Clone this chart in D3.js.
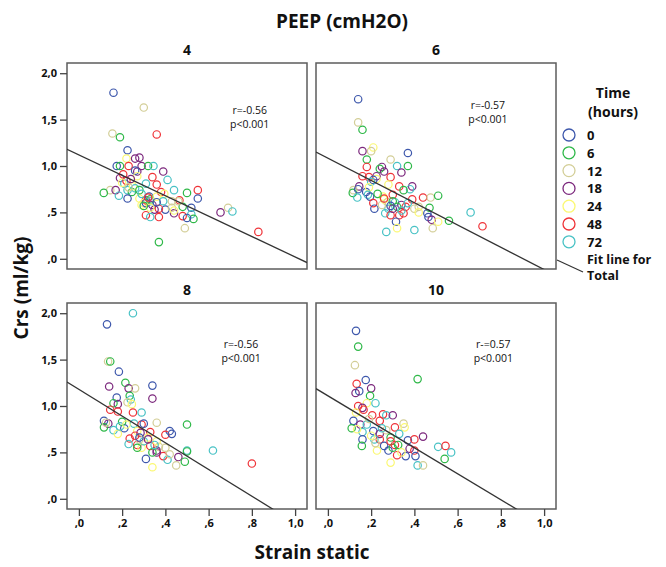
<!DOCTYPE html>
<html>
<head>
<meta charset="utf-8">
<script src="https://cdn.jsdelivr.net/npm/d3@7"></script>
<style>
  body { margin: 0; background: #fff; }
  text { font-family: "Open Sans", "DejaVu Sans", sans-serif; fill: #111; }
</style>
</head>
<body>
<svg id="chart" width="666" height="567"></svg>
<script>
// time groups (hours) and SPSS default colours
var times = [0, 6, 12, 18, 24, 48, 72];
var colors = ["#3E58AC", "#2EB848", "#D3CE97", "#7C287D", "#FBF873", "#EF3338", "#48C2C5"];

var peepLevels = ["4", "6", "8", "10"];
var xTicks = [0, 0.2, 0.4, 0.6, 0.8, 1.0];
var yTicks = [0, 0.5, 1.0, 1.5, 2.0];

// fit line for total per panel: crs = a + b * strain
var fitIntercept = [1.12, 1.084, 1.18, 1.11];
var fitSlope = [-1.10, -1.20, -1.44, -1.40];
var rLabels = ["r=-0.56", "r=-0.57", "r=-0.56", "r-=0.57"];
var pLabels = ["p<0.001", "p<0.001", "p<0.001", "p<0.001"];

// [time, strain, crs]
var peep4 = [
  [0,0.16,1.79],[12,0.30,1.63],[12,0.155,1.35],[6,0.19,1.31],[48,0.36,1.34],
  [0,0.225,1.17],[24,0.22,1.08],[18,0.26,1.08],[18,0.28,1.09],[0,0.175,1.0],
  [6,0.19,1.0],[48,0.23,1.0],[18,0.29,1.0],[6,0.32,1.0],[72,0.345,1.0],
  [18,0.39,0.94],[18,0.27,0.94],[0,0.26,0.95],[48,0.205,0.91],[18,0.19,0.87],
  [48,0.34,0.88],[72,0.41,0.85],[24,0.27,0.89],[72,0.31,0.81],[48,0.36,0.80],
  [72,0.21,0.81],[48,0.22,0.84],[12,0.145,0.74],[18,0.17,0.74],[6,0.115,0.71],
  [72,0.225,0.74],[6,0.245,0.72],[72,0.185,0.68],[0,0.225,0.65],[24,0.28,0.65],
  [24,0.29,0.58],[48,0.31,0.63],[0,0.325,0.67],[72,0.33,0.62],[18,0.34,0.58],
  [48,0.38,0.72],[24,0.395,0.70],[72,0.44,0.74],[6,0.50,0.71],[48,0.55,0.74],
  [0,0.55,0.65],[48,0.465,0.63],[12,0.43,0.62],[6,0.48,0.56],[0,0.40,0.53],
  [18,0.44,0.49],[48,0.37,0.54],[18,0.35,0.53],[48,0.31,0.47],[72,0.33,0.45],
  [48,0.37,0.45],[12,0.43,0.55],[0,0.52,0.55],[48,0.48,0.46],[72,0.52,0.48],
  [6,0.53,0.43],[12,0.49,0.33],[0,0.50,0.44],[18,0.655,0.50],[12,0.69,0.55],
  [72,0.71,0.51],[48,0.83,0.29],[6,0.37,0.18],[24,0.25,0.78],[24,0.30,0.60],
  [72,0.26,0.76],[6,0.28,0.74],[24,0.20,0.82],[72,0.29,0.70],[0,0.31,0.60],
  [6,0.33,0.64],[24,0.36,0.67],[12,0.23,0.77],[18,0.24,0.86],[24,0.33,0.55],
  [72,0.39,0.62],[6,0.30,0.57],[12,0.46,0.62],[24,0.44,0.52],[48,0.32,0.66],
  [0,0.36,0.61]
];
var peep6 = [
  [0,0.14,1.72],[12,0.14,1.47],[6,0.16,1.39],[18,0.16,1.16],[24,0.21,1.20],
  [12,0.20,1.16],[6,0.18,1.07],[0,0.37,1.14],[12,0.29,1.07],[48,0.18,0.99],
  [72,0.32,1.0],[6,0.37,1.0],[18,0.25,0.99],[6,0.24,0.97],[18,0.26,0.94],
  [18,0.34,0.93],[48,0.29,0.88],[48,0.16,0.89],[18,0.225,0.89],[24,0.225,0.86],
  [48,0.19,0.88],[0,0.21,0.85],[72,0.20,0.83],[48,0.33,0.78],[18,0.39,0.78],
  [72,0.38,0.75],[6,0.35,0.74],[24,0.28,0.80],[18,0.145,0.78],[12,0.118,0.74],
  [6,0.115,0.71],[0,0.14,0.75],[72,0.136,0.66],[0,0.177,0.72],[24,0.19,0.77],
  [72,0.185,0.69],[24,0.255,0.67],[48,0.30,0.69],[0,0.195,0.67],[48,0.21,0.60],
  [0,0.215,0.54],[12,0.275,0.61],[72,0.31,0.61],[18,0.34,0.58],[6,0.32,0.56],
  [48,0.36,0.56],[12,0.42,0.56],[48,0.39,0.64],[48,0.44,0.66],[12,0.475,0.66],
  [6,0.51,0.68],[6,0.47,0.55],[72,0.28,0.54],[72,0.265,0.49],[48,0.29,0.47],
  [48,0.33,0.47],[48,0.35,0.49],[0,0.46,0.49],[0,0.465,0.45],[18,0.48,0.42],
  [24,0.51,0.40],[0,0.315,0.40],[24,0.32,0.33],[72,0.27,0.29],[72,0.40,0.31],
  [12,0.485,0.33],[6,0.56,0.41],[72,0.66,0.50],[48,0.715,0.35],[12,0.40,0.54],
  [72,0.37,0.60],[24,0.26,0.64],[6,0.30,0.62],[18,0.30,0.54],[12,0.25,0.58],
  [48,0.26,0.65],[72,0.34,0.52],[24,0.42,0.50],[0,0.29,0.57],[6,0.23,0.70]
];
var peep8 = [
  [72,0.25,2.0],[0,0.13,1.88],[12,0.135,1.48],[6,0.145,1.48],[0,0.185,1.37],
  [18,0.14,1.21],[6,0.215,1.25],[18,0.23,1.19],[12,0.26,1.19],[0,0.34,1.22],
  [18,0.34,1.08],[6,0.235,1.11],[72,0.24,1.07],[0,0.175,1.09],[12,0.225,1.04],
  [24,0.245,1.02],[18,0.18,1.02],[6,0.16,1.03],[48,0.145,0.96],[48,0.18,0.94],
  [48,0.25,0.93],[72,0.29,0.93],[12,0.36,0.82],[6,0.50,0.80],[72,0.62,0.52],
  [0,0.116,0.84],[18,0.136,0.81],[6,0.116,0.77],[12,0.125,0.82],[72,0.16,0.74],
  [24,0.18,0.70],[0,0.21,0.76],[72,0.255,0.81],[24,0.27,0.73],[48,0.29,0.80],
  [0,0.30,0.81],[48,0.33,0.72],[0,0.42,0.73],[48,0.40,0.69],[48,0.235,0.65],
  [72,0.23,0.59],[48,0.27,0.58],[18,0.285,0.71],[24,0.29,0.55],[48,0.33,0.57],
  [18,0.36,0.52],[12,0.37,0.56],[72,0.50,0.52],[6,0.50,0.51],[48,0.39,0.46],
  [18,0.46,0.45],[72,0.41,0.42],[6,0.49,0.40],[0,0.31,0.43],[12,0.45,0.36],
  [24,0.34,0.34],[48,0.80,0.38],[0,0.43,0.70],[18,0.36,0.50],[6,0.34,0.50],
  [72,0.30,0.62],[24,0.32,0.66],[12,0.28,0.64],[6,0.20,0.83],[24,0.36,0.62],
  [72,0.19,0.78],[12,0.40,0.55],[48,0.26,0.68],[0,0.28,0.66],[18,0.32,0.64],
  [24,0.22,0.80],[6,0.27,0.55],[72,0.35,0.58],[12,0.42,0.48]
];
var peep10 = [
  [0,0.13,1.81],[6,0.14,1.64],[12,0.125,1.44],[6,0.415,1.29],[0,0.175,1.28],
  [48,0.133,1.24],[18,0.20,1.19],[0,0.145,1.16],[18,0.128,1.14],[6,0.195,1.11],
  [72,0.22,1.03],[24,0.18,1.03],[48,0.14,1.0],[18,0.16,0.98],[24,0.13,0.93],
  [48,0.165,0.96],[48,0.205,0.90],[48,0.255,0.91],[72,0.27,0.90],[18,0.30,0.90],
  [48,0.24,0.84],[0,0.118,0.84],[18,0.15,0.80],[6,0.11,0.76],[72,0.16,0.72],
  [24,0.135,0.75],[0,0.16,0.64],[6,0.157,0.57],[0,0.21,0.73],[48,0.31,0.77],
  [12,0.35,0.81],[24,0.355,0.77],[18,0.24,0.70],[48,0.24,0.64],[72,0.215,0.64],
  [0,0.26,0.57],[24,0.227,0.52],[48,0.31,0.58],[6,0.325,0.58],[0,0.37,0.63],
  [48,0.40,0.64],[18,0.44,0.67],[18,0.378,0.54],[48,0.40,0.52],[0,0.405,0.46],
  [0,0.36,0.46],[48,0.32,0.47],[24,0.29,0.39],[0,0.28,0.52],[72,0.51,0.56],
  [48,0.544,0.57],[72,0.57,0.50],[6,0.54,0.43],[72,0.415,0.36],[12,0.44,0.36],
  [72,0.18,0.80],[12,0.27,0.74],[6,0.29,0.66],[24,0.20,0.68],[72,0.33,0.70],
  [12,0.22,0.60],[24,0.34,0.50],[72,0.25,0.76],[6,0.30,0.55],[12,0.19,0.86],
  [48,0.29,0.62]
];
var panelData = [peep4, peep6, peep8, peep10];

// layout
var pw = 240, ph = 206;
var panelPos = [[67, 63], [316, 63], [67, 303], [316, 303]];
var statPos = [[0.79, 1.60], [0.74, 1.66], [0.75, 1.67], [0.765, 1.67]];

var svg = d3.select("#chart");

var x = d3.scaleLinear().domain([-0.055, 1.055]).range([0, pw]);
var y = d3.scaleLinear().domain([-0.11, 2.11]).range([ph, 0]);
var color = d3.scaleOrdinal().domain(times).range(colors);

function spssFmt(d) {
  return d3.format(".1f")(d).replace(/^0\./, ".").replace(".", ",");
}

panelData.forEach(function(data, i) {
  var g = svg.append("g")
    .attr("transform", "translate(" + panelPos[i][0] + "," + panelPos[i][1] + ")");

  g.append("clipPath").attr("id", "clip" + i)
    .append("rect").attr("width", pw).attr("height", ph);

  g.append("rect")
    .attr("width", pw).attr("height", ph)
    .attr("fill", "#fff")
    .attr("stroke", "#5c5c5c").attr("stroke-width", 1.5);

  // panel header
  g.append("text")
    .attr("x", pw / 2).attr("y", -8)
    .attr("text-anchor", "middle")
    .style("font-size", "14px").style("font-weight", "bold")
    .text(peepLevels[i]);

  if (i % 2 == 0) {
    var ya = g.append("g")
      .call(d3.axisLeft(y).tickValues(yTicks).tickSize(7).tickSizeOuter(0).tickFormat(spssFmt));
    ya.select(".domain").remove();
    ya.selectAll("line").attr("stroke", "#444").attr("stroke-width", 1.3);
    ya.selectAll("text").style("font-size", "11px").style("font-weight", "bold")
      .style("font-family", "'Open Sans', sans-serif").attr("fill", "#222");
  }
  if (i >= 2) {
    var xa = g.append("g").attr("transform", "translate(0," + ph + ")")
      .call(d3.axisBottom(x).tickValues(xTicks).tickSize(7).tickSizeOuter(0).tickFormat(spssFmt));
    xa.select(".domain").remove();
    xa.selectAll("line").attr("stroke", "#444").attr("stroke-width", 1.3);
    xa.selectAll("text").style("font-size", "11px").style("font-weight", "bold")
      .style("font-family", "'Open Sans', sans-serif").attr("fill", "#222");
  }

  var inner = g.append("g").attr("clip-path", "url(#clip" + i + ")");

  inner.selectAll("circle")
    .data(data)
    .enter()
    .append("circle")
    .attr("cx", function(d) { return x(d[1]); })
    .attr("cy", function(d) { return y(d[2]); })
    .attr("r", 3.7)
    .attr("fill", "none")
    .attr("stroke", function(d) { return color(d[0]); })
    .attr("stroke-width", 1.2);

  var xs = x.domain();
  inner.append("line")
    .attr("x1", x(xs[0])).attr("y1", y(fitIntercept[i] + fitSlope[i] * xs[0]))
    .attr("x2", x(xs[1])).attr("y2", y(fitIntercept[i] + fitSlope[i] * xs[1]))
    .attr("stroke", "#333").attr("stroke-width", 1.3);

  // r / p annotation, two lines
  var sx = x(statPos[i][0]), sy = y(statPos[i][1]) + 4;
  g.append("text").attr("x", sx).attr("y", sy)
    .attr("text-anchor", "middle").style("font-size", "10.5px")
    .text(rLabels[i]);
  g.append("text").attr("x", sx).attr("y", sy + 14)
    .attr("text-anchor", "middle").style("font-size", "10.5px")
    .text(pLabels[i]);
});

// titles
svg.append("text")
  .attr("x", 342).attr("y", 28)
  .attr("text-anchor", "middle")
  .style("font-size", "19px").style("font-weight", "bold")
  .text("PEEP (cmH2O)");

svg.append("text")
  .attr("x", 312).attr("y", 559)
  .attr("text-anchor", "middle")
  .style("font-size", "19px").style("font-weight", "bold")
  .text("Strain static");

svg.append("text")
  .attr("transform", "translate(28,288) rotate(-90)")
  .attr("text-anchor", "middle")
  .style("font-size", "19px").style("font-weight", "bold")
  .text("Crs (ml/kg)");

// legend
var lg = svg.append("g");
lg.append("text").attr("x", 613).attr("y", 98).attr("text-anchor", "middle")
  .style("font-size", "14px").style("font-weight", "bold").text("Time");
lg.append("text").attr("x", 613).attr("y", 117).attr("text-anchor", "middle")
  .style("font-size", "14px").style("font-weight", "bold").text("(hours)");

var items = lg.selectAll("g.item")
  .data(times)
  .enter()
  .append("g")
  .attr("class", "item")
  .attr("transform", function(d, k) { return "translate(569," + (135 + k * 17.8) + ")"; });
items.append("circle")
  .attr("r", 6)
  .attr("fill", "none")
  .attr("stroke", function(d) { return color(d); })
  .attr("stroke-width", 1.3);
items.append("text")
  .attr("x", 18).attr("y", 5)
  .style("font-size", "13px").style("font-weight", "bold")
  .text(function(d) { return d; });

lg.append("line")
  .attr("x1", 557).attr("y1", 260).attr("x2", 583).attr("y2", 272)
  .attr("stroke", "#333").attr("stroke-width", 1.2);
lg.append("text").attr("x", 587).attr("y", 264)
  .style("font-size", "12.5px").style("font-weight", "bold").text("Fit line for");
lg.append("text").attr("x", 587).attr("y", 280)
  .style("font-size", "12.5px").style("font-weight", "bold").text("Total");
</script>
</body>
</html>
